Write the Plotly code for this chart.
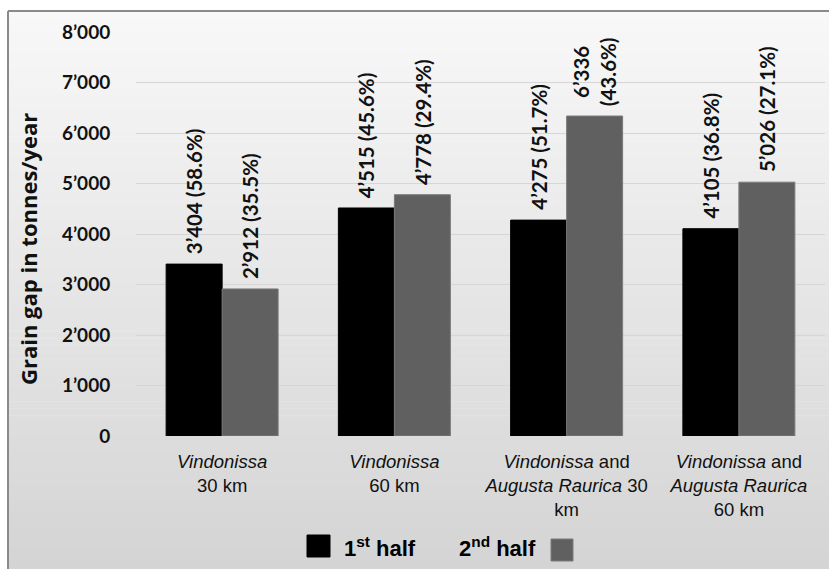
import plotly.graph_objects as go

# Grain gap per scenario (tonnes/year) and share of demand in brackets
categories = [
    "<i>Vindonissa</i><br>30 km",
    "<i>Vindonissa</i><br>60 km",
    "<i>Vindonissa</i> and<br><i>Augusta Raurica</i> 30<br>km",
    "<i>Vindonissa</i> and<br><i>Augusta Raurica</i><br>60 km",
]
first_half = [3404, 4515, 4275, 4105]
first_pct = [58.6, 45.6, 51.7, 36.8]
second_half = [2912, 4778, 6336, 5026]
second_pct = [35.5, 29.4, 43.6, 27.1]
wrap_second = [False, False, True, False]

y_ticks = [0, 1000, 2000, 3000, 4000, 5000, 6000, 7000, 8000]

W, H = 829, 569
ML, MR, MT, MB = 136, 4, 32, 133
PW, PH = W - ML - MR, H - MT - MB
BARGAP = 0.35

C_FIRST = "#000000"
C_SECOND = "#606060"


def fmt(v):
    s = f"{v:,}".replace(",", "\u2019")
    return s


def px_x(px):
    return (px - ML) / PW


def px_y(py):
    return (H - MB - py) / PH


fig = go.Figure()
x_idx = list(range(len(categories)))

fig.add_trace(go.Bar(
    x=x_idx, y=first_half, name="1st half",
    marker=dict(color=C_FIRST, line=dict(color="#000000", width=1)),
    showlegend=False,
))
fig.add_trace(go.Bar(
    x=x_idx, y=second_half, name="2nd half",
    marker=dict(color=C_SECOND, line=dict(color="#7a7a7a", width=1)),
    showlegend=False,
))

# value labels, rotated, above each bar
half_w = (1 - BARGAP) / 4
label_font = dict(family="Lato", size=20.5, color="#111111", weight="bold")
annotations = []
for i in x_idx:
    annotations.append(dict(
        x=i - half_w, y=first_half[i], xref="x", yref="y",
        text=f"{fmt(first_half[i])} ({first_pct[i]}%)",
        textangle=-90, showarrow=False, xanchor="center", yanchor="bottom",
        yshift=8, font=label_font,
    ))
    sep = "<br>" if wrap_second[i] else " "
    annotations.append(dict(
        x=i + half_w, y=second_half[i], xref="x", yref="y",
        text=f"{fmt(second_half[i])}{sep}({second_pct[i]}%)",
        textangle=-90, showarrow=False, xanchor="center", yanchor="bottom",
        yshift=8, font=label_font,
    ))

# y axis title
annotations.append(dict(
    x=px_x(28), y=px_y(249), xref="paper", yref="paper",
    text="Grain gap in tonnes/year", textangle=-90, showarrow=False,
    xanchor="center", yanchor="middle",
    font=dict(family="Open Sans", size=22, color="#111111", weight="bold"),
))

# legend entries
leg_font = dict(family="Liberation Sans", size=22, color="#000000", weight="bold")
annotations.append(dict(
    x=px_x(342), y=px_y(547), xref="paper", yref="paper",
    text="1<sup>st</sup> half", showarrow=False, xanchor="left", yanchor="middle",
    font=leg_font,
))
annotations.append(dict(
    x=px_x(457), y=px_y(547), xref="paper", yref="paper",
    text="2<sup>nd</sup> half", showarrow=False, xanchor="left", yanchor="middle",
    font=leg_font,
))

shapes = []
# soft vertical gradient behind the chart
n_bands = 80
top_px, bot_px = 11, H
c_top, c_bot = 248, 212
for k in range(n_bands):
    y0 = top_px + (bot_px - top_px) * k / n_bands
    y1 = top_px + (bot_px - top_px) * (k + 1) / n_bands
    c = round(c_top + (c_bot - c_top) * (k + 0.5) / n_bands)
    shapes.append(dict(
        type="rect", xref="paper", yref="paper", layer="below",
        x0=px_x(8), x1=px_x(W), y0=px_y(y1), y1=px_y(y0) + 0.001,
        fillcolor=f"rgb({c},{c},{c})", line=dict(width=0),
    ))
# frame edges
shapes.append(dict(type="line", xref="paper", yref="paper", layer="above",
                   x0=px_x(8), x1=px_x(W), y0=px_y(11), y1=px_y(11),
                   line=dict(color="#8a8a8a", width=2)))
shapes.append(dict(type="line", xref="paper", yref="paper", layer="above",
                   x0=px_x(8), x1=px_x(8), y0=px_y(11), y1=px_y(H),
                   line=dict(color="#8a8a8a", width=2)))
# legend swatches
shapes.append(dict(type="rect", xref="paper", yref="paper",
                   x0=px_x(307), x1=px_x(330), y0=px_y(557), y1=px_y(535),
                   fillcolor=C_FIRST, line=dict(color="#000000", width=1)))
shapes.append(dict(type="rect", xref="paper", yref="paper",
                   x0=px_x(551), x1=px_x(573), y0=px_y(561), y1=px_y(539),
                   fillcolor=C_SECOND, line=dict(color="#7a7a7a", width=1)))

fig.update_layout(
    width=W, height=H,
    margin=dict(l=ML, r=MR, t=MT, b=MB, autoexpand=False),
    paper_bgcolor="white", plot_bgcolor="rgba(0,0,0,0)",
    barmode="group", bargap=BARGAP, bargroupgap=0,
    annotations=annotations, shapes=shapes,
    xaxis=dict(
        tickmode="array", tickvals=x_idx, ticktext=categories,
        range=[-0.5, len(categories) - 0.5],
        showgrid=False, zeroline=False, showline=False,
        ticks="outside", ticklen=9, tickcolor="rgba(0,0,0,0)",
        tickfont=dict(family="Liberation Sans", size=18.5, color="#111111"),
    ),
    yaxis=dict(
        range=[0, 8000], tickmode="array", tickvals=y_ticks,
        ticktext=[fmt(v) for v in y_ticks],
        showgrid=True, gridcolor="#d6d6d6", gridwidth=1,
        zeroline=False, showline=False,
        ticks="outside", ticklen=21, tickcolor="rgba(0,0,0,0)",
        tickfont=dict(family="Lato", size=19, color="#111111", weight="bold"),
    ),
)

fig.write_html("out.html")
